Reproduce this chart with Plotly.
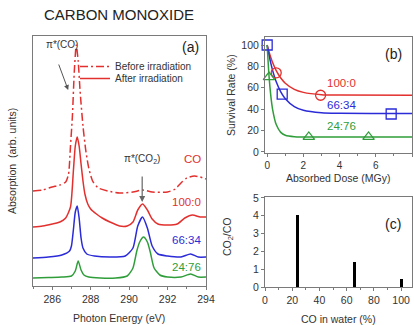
import plotly.graph_objects as go

# ---------------- data ----------------
# Panel (a): XANES spectra (y in arbitrary units, offset stacked)
e_before = [285.0, 285.5, 286.0, 286.4, 286.7, 286.85, 286.95, 287.05, 287.15, 287.25, 287.35, 287.45,
            287.6, 287.75, 287.9, 288.1, 288.4, 288.9, 289.5, 290.2, 290.7, 291.2, 292.0, 292.4,
            292.7, 293.0, 293.4, 293.7, 294.0]
y_before = [95, 96, 99, 101, 104, 112, 140, 170, 215, 241, 225, 195,
            160, 135, 118, 105, 98, 95, 93, 94, 96, 94, 94, 97,
            103, 108, 110, 109, 107]

e_100 = [285.0, 285.5, 286.0, 286.4, 286.7, 286.95, 287.1, 287.2, 287.3, 287.4, 287.5, 287.6,
         287.7, 287.85, 288.0, 288.3, 288.6, 289.0, 289.5, 289.9, 290.2, 290.45, 290.7, 290.95,
         291.2, 291.5, 292.0, 292.5, 292.9, 293.3, 293.7, 294.0]
y_100 = [59, 60, 62, 64, 68, 79, 115, 140, 149, 140, 122, 105,
         92, 82, 77, 72, 68, 64, 60, 60, 64, 76, 82, 76,
         67, 62, 61, 62, 68, 71, 69, 69]

e_66 = [285.0, 285.8, 286.5, 286.9, 287.0, 287.1, 287.2, 287.3, 287.4, 287.5, 287.6, 287.8,
        288.2, 289.0, 289.8, 290.2, 290.45, 290.7, 290.95, 291.2, 291.5, 292.0, 292.7, 293.2,
        293.6, 294.0]
y_66 = [28, 29, 31, 35, 40, 56, 74, 80, 68, 48, 38, 32,
        30, 29, 30, 38, 60, 69, 58, 40, 32, 30, 29, 32,
        29, 29]

e_24 = [285.0, 285.8, 286.5, 287.0, 287.2, 287.35, 287.5, 287.65, 287.9, 288.5, 289.3, 289.9,
        290.2, 290.4, 290.55, 290.75, 290.95, 291.1, 291.3, 291.6, 292.0, 292.7, 293.2, 293.6, 294.0]
y_24 = [8, 8.5, 9, 10, 15, 25, 16, 11, 9, 8, 8, 10,
        18, 35, 44, 49, 44, 34, 18, 11, 9, 9, 12, 9, 9]

# Panel (b): survival rate vs absorbed dose
dose_100 = [0.5, 2.95]
surv_100 = [74, 53]
dose_66 = [0.0, 0.83, 6.85]
surv_66 = [100, 54, 35.5]
dose_24 = [0.1, 2.3, 5.6]
surv_24 = [70, 14, 14]

# fitted curves
fit_dose = [0, 0.1, 0.2, 0.3, 0.5, 0.75, 1.0, 1.5, 2, 3, 4, 8]
fit_100 = [100, 93.7, 88.3, 83.6, 76.0, 69.1, 64.3, 58.5, 55.7, 53.6, 53.2, 53]
fit_66 = [100, 90.9, 83.0, 76.3, 65.6, 56.2, 49.8, 42.4, 38.9, 36.6, 36.1, 36]
fit_24 = [100, 71.6, 52.6, 39.9, 25.6, 18.3, 15.6, 14.2, 14, 14, 14, 14]

# Panel (c): CO2/CO ratio vs CO in water
co_pct = [24, 66, 100]
ratio = [4.05, 1.42, 0.47]

# ---------------- style ----------------
RED = '#e2302e'
BLUE = '#2b2bd8'
GREEN = '#2f9e3a'
FONT = 'Liberation Sans'
AX = '#7a7a7a'
TXT = '#333333'

fig = go.Figure()

# (a)
fig.add_trace(go.Scatter(x=e_before, y=y_before, mode='lines', name='Before irradiation',
                         line=dict(color=RED, width=1.5, dash='8px,3px,2px,3px', shape='spline', smoothing=0.6),
                         xaxis='x', yaxis='y', legend='legend'))
fig.add_trace(go.Scatter(x=e_100, y=y_100, mode='lines', name='After irradiation',
                         line=dict(color=RED, width=1.5, shape='spline', smoothing=0.6),
                         xaxis='x', yaxis='y', legend='legend2'))
fig.add_trace(go.Scatter(x=e_66, y=y_66, mode='lines', showlegend=False,
                         line=dict(color=BLUE, width=1.5, shape='spline', smoothing=0.6), xaxis='x', yaxis='y'))
fig.add_trace(go.Scatter(x=e_24, y=y_24, mode='lines', showlegend=False,
                         line=dict(color=GREEN, width=1.5, shape='spline', smoothing=0.6), xaxis='x', yaxis='y'))

# (b)
for fd, col in [(fit_100, RED), (fit_66, BLUE), (fit_24, GREEN)]:
    fig.add_trace(go.Scatter(x=fit_dose, y=fd, mode='lines', showlegend=False,
                             line=dict(color=col, width=1.5, shape='spline', smoothing=0.8),
                             xaxis='x2', yaxis='y2'))
for dx, dy, col, sym in [(dose_100, surv_100, RED, 'circle-open'),
                         (dose_66, surv_66, BLUE, 'square-open'),
                         (dose_24, surv_24, GREEN, 'triangle-up-open')]:
    fig.add_trace(go.Scatter(x=dx, y=dy, mode='markers', showlegend=False,
                             marker=dict(symbol=sym, size=10, color=col, line=dict(width=1.3, color=col)),
                             xaxis='x2', yaxis='y2', cliponaxis=False))

# (c)
fig.add_trace(go.Bar(x=co_pct, y=ratio, width=2.3, marker=dict(color='black', line=dict(width=0)),
                     showlegend=False, xaxis='x3', yaxis='y3'))

W, H = 414, 325
def px(x):
    return x / W
def py(y):
    return 1 - y / H

tickfont = dict(family=FONT, size=10.5, color=TXT)
common = dict(showline=True, linecolor=AX, linewidth=1, mirror=True, showgrid=False, automargin=False,
              zeroline=False, tickfont=tickfont, tickcolor=AX, ticks='outside')
common_b = dict(common)
common_b['tickfont'] = dict(family=FONT, size=10, color=TXT)

fig.update_layout(
    template='none',
    width=W, height=H, margin=dict(l=0, r=0, t=0, b=0, pad=0, autoexpand=False), autosize=False,
    paper_bgcolor='white', plot_bgcolor='white',
    font=dict(family=FONT, color=TXT),
    xaxis=dict(domain=[px(33), px(206)], range=[285, 294], dtick=2, tick0=286, ticklen=3,
               minor=dict(dtick=1, ticklen=2, ticks='outside', tickcolor=AX), anchor='y', **common),
    yaxis=dict(domain=[py(286), py(36)], range=[0, 250], showticklabels=False, anchor='x',
               **{k: v for k, v in common.items() if k != 'ticks'}, ticks=''),
    xaxis2=dict(domain=[px(265), px(412)], range=[-0.12, 8], dtick=2, ticklen=3,
                minor=dict(dtick=1, ticklen=2, ticks='outside', tickcolor=AX), anchor='y2', **common_b),
    yaxis2=dict(domain=[py(153), py(37)], range=[-1, 107.5], dtick=20, ticklen=3, anchor='x2', **common),
    xaxis3=dict(domain=[px(265), px(412)], range=[0, 108], dtick=20, ticklen=3,
                minor=dict(dtick=10, ticklen=2, ticks='outside', tickcolor=AX), anchor='y3', **common),
    yaxis3=dict(domain=[py(287), py(197)], range=[0, 5.05], dtick=1, ticklen=3, anchor='x3', **common),
    legend=dict(x=px(75), y=py(52), xanchor='left', yanchor='top', bgcolor='rgba(0,0,0,0)',
                font=dict(family=FONT, size=10, color=TXT), itemwidth=30, borderwidth=0,
                tracegroupgap=0),
    legend2=dict(x=px(75), y=py(64), xanchor='left', yanchor='top', bgcolor='rgba(0,0,0,0)',
                 font=dict(family=FONT, size=10, color=TXT), itemwidth=30, borderwidth=0,
                 tracegroupgap=0),
    bargap=0,
)

ann = []
def A(text, x, y, size=11, color=TXT, xref='paper', yref='paper', xanchor='center', angle=0, **kw):
    ann.append(dict(text=text, x=x, y=y, xref=xref, yref=yref, showarrow=False, xanchor=xanchor,
                    yanchor='middle', textangle=angle, font=dict(family=FONT, size=size, color=color), **kw))

A('CARBON MONOXIDE', px(119), py(14), size=15, color='#222')
A('Photon Energy (eV)', px(119), py(318), size=10.5)
A('Absorption  (arb. units)', px(12), py(161), size=10.5, angle=-90)
A('Absorbed Dose (MGy)', px(338), py(178), size=10.5)
A('Survival Rate (%)', px(231), py(95), size=10.5, angle=-90)
A('CO<sub>2</sub>/CO', px(228), py(237), size=10.5, angle=-90)
A('CO in water (%)', px(338), py(319), size=10.5)

A('(a)', 293.17, 239, size=14, color='#222', xref='x', yref='y')
A('π*(CO)', 286.5, 241, size=10, xref='x', yref='y')
A('π*(CO<sub>2</sub>)', 290.68, 127, size=10, xref='x', yref='y')
A('CO', 293.85, 127, size=11.5, color=RED, xref='x', yref='y', xanchor='right')
A('100:0', 293.85, 84, size=11.5, color=RED, xref='x', yref='y', xanchor='right')
A('66:34', 293.85, 46, size=11.5, color=BLUE, xref='x', yref='y', xanchor='right')
A('24:76', 293.85, 19, size=11.5, color=GREEN, xref='x', yref='y', xanchor='right')

A('(b)', 6.96, 91.6, size=14, color='#222', xref='x2', yref='y2')
A('100:0', 4.1, 64.5, size=11.5, color=RED, xref='x2', yref='y2')
A('66:34', 4.1, 44, size=11.5, color=BLUE, xref='x2', yref='y2')
A('24:76', 4.1, 24, size=11.5, color=GREEN, xref='x2', yref='y2')

A('(c)', 94, 3.54, size=14, color='#222', xref='x3', yref='y3')

# arrows
ann.append(dict(x=286.83, y=196, xref='x', yref='y', ax=-10, ay=-27, text='', showarrow=True,
                arrowhead=2, arrowsize=1, arrowwidth=1, arrowcolor='#555'))
ann.append(dict(x=290.68, y=84, xref='x', yref='y', ax=0, ay=-27, text='', showarrow=True,
                arrowhead=2, arrowsize=1, arrowwidth=1.2, arrowcolor='#666'))

fig.update_layout(annotations=ann)
fig.write_html('out.html', config={'displayModeBar': False, 'responsive': False},
               post_script="document.body.style.margin='0';document.body.style.overflow='hidden';")
